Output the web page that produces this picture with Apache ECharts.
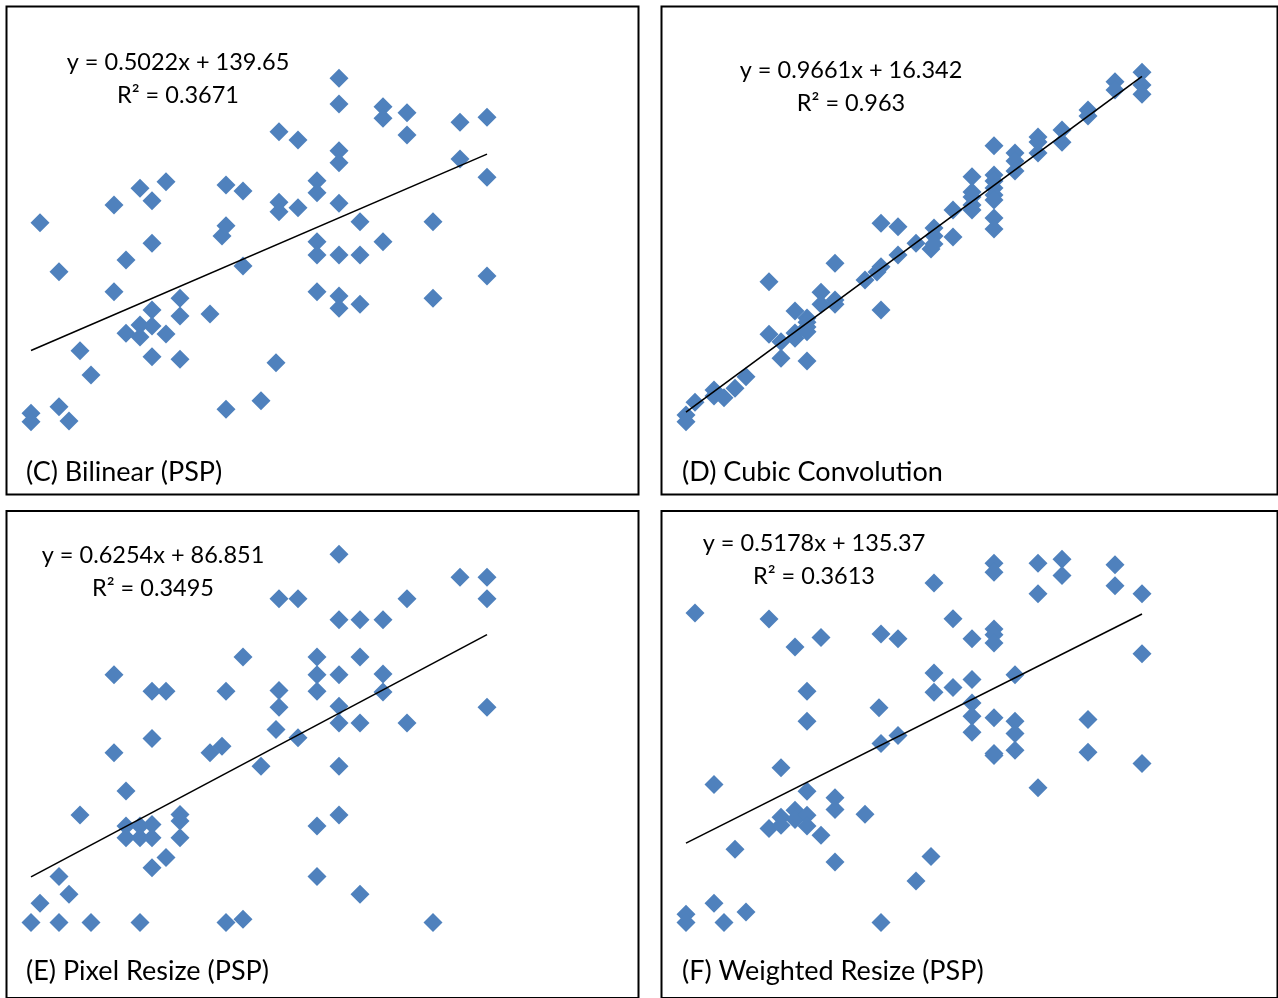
<!DOCTYPE html>
<html>
<head>
<meta charset="utf-8">
<title>Resize methods vs reference</title>
<script src="https://cdn.jsdelivr.net/npm/echarts@6/dist/echarts.min.js"></script>
<style>
  html, body { margin: 0; padding: 0; background: #fff; }
  #chart { width: 1278px; height: 998px; }
</style>
</head>
<body>
<div id="chart"></div>
<script>
// (C) Bilinear (PSP)
const cX = [20, 20, 29, 48, 48, 58, 69, 80, 103, 103, 115, 115, 129, 129, 129,
  141, 141, 141, 141, 141, 155, 155, 169, 169, 169, 199, 211, 215, 215, 215,
  232, 232, 250, 265, 268, 268, 268, 287, 287, 306, 306, 306, 306, 306,
  328, 328, 328, 328, 328, 328, 328, 328, 349, 349, 349, 372, 372, 372,
  396, 396, 422, 422, 449, 449, 476, 476, 476];
const cY = [76.6, 66.8, 298.8, 241.6, 84.3, 67.6, 149.5, 121.2, 319.4, 218.3, 255.3, 169.8, 338.8, 179.5, 165.5,
  324.4, 274.7, 197.0, 178.3, 142.5, 346.5, 169.0, 210.6, 190.0, 139.5, 192.3, 283.2, 342.7, 295.3, 81.2,
  335.7, 248.3, 91.3, 135.6, 404.8, 322.5, 311.6, 395.2, 316.2, 347.7, 333.7, 276.6, 261.1, 218.3,
  467.1, 437.1, 382.7, 368.7, 321.4, 261.1, 213.3, 199.0, 299.9, 261.1, 203.6, 434.0, 420.5, 276.6,
  427.0, 401.0, 299.9, 210.6, 415.8, 373.0, 421.6, 351.7, 236.6];

// (D) Cubic Convolution
const dX = [20, 20, 29, 48, 48, 58, 69, 80, 103, 103, 115, 115, 129, 129, 129,
  141, 141, 141, 141, 141, 155, 155, 169, 169, 169, 199, 211, 215, 215, 215,
  232, 232, 250, 265, 268, 268, 268, 287, 287, 306, 306, 306, 306, 306,
  328, 328, 328, 328, 328, 328, 328, 328, 349, 349, 349, 372, 372, 372,
  396, 396, 422, 422, 449, 449, 476, 476, 476];
const dY = [31.8, 23.0, 48.5, 64.6, 56.7, 54.5, 66.9, 82.1, 206.8, 137.7, 128.0, 106.2, 168.3, 139.4, 132.5,
  159.1, 153.5, 147.3, 141.1, 102.7, 192.9, 177.1, 230.9, 182.7, 177.1, 209.0, 219.5, 283.4, 226.5, 169.6,
  279.0, 241.8, 257.2, 249.7, 277.2, 266.7, 256.2, 300.9, 265.4, 344.6, 324.5, 317.9, 307.4, 300.9,
  385.3, 346.8, 338.9, 329.7, 320.6, 314.0, 290.4, 275.9, 375.7, 365.2, 352.1, 396.7, 390.1, 375.7,
  405.9, 389.7, 432.1, 424.2, 469.3, 458.4, 481.6, 464.9, 452.7];

// (E) Pixel Resize (PSP)
const eX = [20, 29, 48, 48, 58, 69, 80, 103, 103, 115, 115, 115, 129, 129, 129,
  141, 141, 141, 141, 141, 155, 155, 169, 169, 169, 199, 211, 215, 215,
  232, 232, 250, 265, 268, 268, 268, 287, 287, 306, 306, 306, 306, 306,
  328, 328, 328, 328, 328, 328, 328, 349, 349, 349, 349, 372, 372, 372,
  396, 396, 422, 449, 476, 476, 476];
const eY = [45.6, 68.3, 99.7, 45.6, 78.9, 172.1, 45.6, 337.4, 245.4, 200.3, 159.1, 145.5, 159.1, 145.5, 45.6,
  317.8, 262.2, 161.1, 145.5, 110.2, 317.8, 122.0, 172.9, 165.0, 145.5, 245.4, 253.1, 317.8, 45.6,
  358.2, 49.5, 229.6, 272.7, 426.7, 318.9, 299.0, 426.7, 263.0, 358.2, 337.4, 317.8, 159.1, 99.7,
  479.2, 402.0, 337.4, 300.1, 280.6, 229.6, 172.1, 402.0, 358.2, 280.6, 78.9, 402.0, 338.2, 317.0,
  426.7, 280.6, 45.6, 452.2, 452.2, 426.7, 299.0];

// (F) Weighted Resize (PSP)
const fX = [20, 20, 29, 48, 48, 58, 69, 80, 103, 103, 115, 115, 115, 129, 129, 129,
  141, 141, 141, 141, 141, 155, 155, 169, 169, 169, 199, 213, 215, 215, 215,
  232, 232, 250, 265, 268, 268, 268, 287, 287, 306, 306, 306, 306, 306,
  328, 328, 328, 328, 328, 328, 328, 328, 349, 349, 349, 349, 372, 372, 372,
  396, 396, 422, 422, 449, 449, 476, 476, 476];
const fY = [72.6, 64.0, 382.7, 206.2, 83.9, 64.0, 139.4, 74.9, 376.6, 160.7, 223.4, 172.3, 164.1, 347.8, 179.5, 170.2,
  302.1, 271.3, 199.3, 174.4, 163.4, 357.6, 153.8, 192.6, 180.5, 126.3, 175.4, 285.1, 361.1, 248.4, 64.0,
  356.3, 256.6, 106.8, 131.9, 413.6, 321.0, 301.1, 376.9, 306.2, 356.3, 314.2, 290.2, 276.4, 260.0,
  434.1, 424.9, 366.3, 360.4, 351.9, 274.8, 238.1, 236.0, 319.3, 271.3, 258.6, 241.5, 434.1, 402.6, 202.8,
  438.2, 421.4, 273.0, 239.4, 432.4, 410.8, 402.6, 340.9, 227.8];

// trendline fits and labels (as printed on the chart)
const slopes = [0.5022, 0.9661, 0.6254, 0.5178];
const intercepts = [139.65, 16.342, 86.851, 135.37];
const rSquared = ['0.3671', '0.963', '0.3495', '0.3613'];
const titles = ['(C) Bilinear (PSP)', '(D) Cubic Convolution', '(E) Pixel Resize (PSP)', '(F) Weighted Resize (PSP)'];

const xs = [cX, dX, eX, fX];
const ys = [cY, dY, eY, fY];

// panel boxes and the (hidden) axis ranges
const panels = [
  { left: 6.5, top: 6.5, width: 632, xMin: -4.5, xMax: 627.5, yMin: -18.1, yMax: 550.8, eq: [178, 46], label: [26, 472] },
  { left: 661.5, top: 6.5, width: 616, xMin: -4.5, xMax: 611.5, yMin: -72.5, yMax: 568.0, eq: [851, 54], label: [682, 472] },
  { left: 6.5, top: 511, width: 632, xMin: -4.5, xMax: 627.5, yMin: -43.3, yMax: 530.1, eq: [153, 539], label: [26, 971] },
  { left: 661.5, top: 511, width: 616, xMin: -4.5, xMax: 611.5, yMin: -13.8, yMax: 487.9, eq: [814, 527], label: [682, 971] }
];

const FONT = 'Lato, "Open Sans", sans-serif';
const chart = echarts.init(document.getElementById('chart'));

const grid = [], xAxis = [], yAxis = [], series = [], graphic = [];
panels.forEach((p, i) => {
  grid.push({
    left: p.left, top: p.top, width: p.width, height: 488,
    show: true, borderColor: '#000', borderWidth: 2, backgroundColor: '#fff'
  });
  xAxis.push({ gridIndex: i, type: 'value', min: p.xMin, max: p.xMax, show: false });
  yAxis.push({ gridIndex: i, type: 'value', min: p.yMin, max: p.yMax, show: false });

  series.push({
    type: 'scatter',
    xAxisIndex: i, yAxisIndex: i,
    symbol: 'diamond',
    symbolSize: 19,
    itemStyle: { color: '#4F81BD', opacity: 1 },
    data: xs[i].map((x, k) => [x, ys[i][k]]),
    z: 2
  });

  // linear trendline across the data's x range
  const lo = Math.min(...xs[i]);
  const hi = Math.max(...xs[i]);
  series.push({
    type: 'line',
    xAxisIndex: i, yAxisIndex: i,
    symbol: 'none',
    silent: true,
    lineStyle: { color: '#000', width: 1.6 },
    data: [[lo, slopes[i] * lo + intercepts[i]], [hi, slopes[i] * hi + intercepts[i]]],
    z: 3
  });

  // equation block, centred like Excel's trendline label
  graphic.push({
    type: 'text',
    x: p.eq[0], y: p.eq[1],
    style: {
      text: 'y = ' + slopes[i] + 'x + ' + intercepts[i] + '\nR² = ' + rSquared[i],
      x: 0, y: 0,
      align: 'center',
      verticalAlign: 'top',
      lineHeight: 33,
      font: '23.5px ' + FONT,
      fill: '#000'
    },
    z: 10
  });
  graphic.push({
    type: 'text',
    style: {
      text: titles[i],
      x: p.label[0], y: p.label[1],
      align: 'left',
      verticalAlign: 'middle',
      font: '27px ' + FONT,
      fill: '#000'
    },
    z: 10
  });
});

chart.setOption({
  animation: false,
  backgroundColor: '#fff',
  grid, xAxis, yAxis, series, graphic
});
</script>
</body>
</html>
